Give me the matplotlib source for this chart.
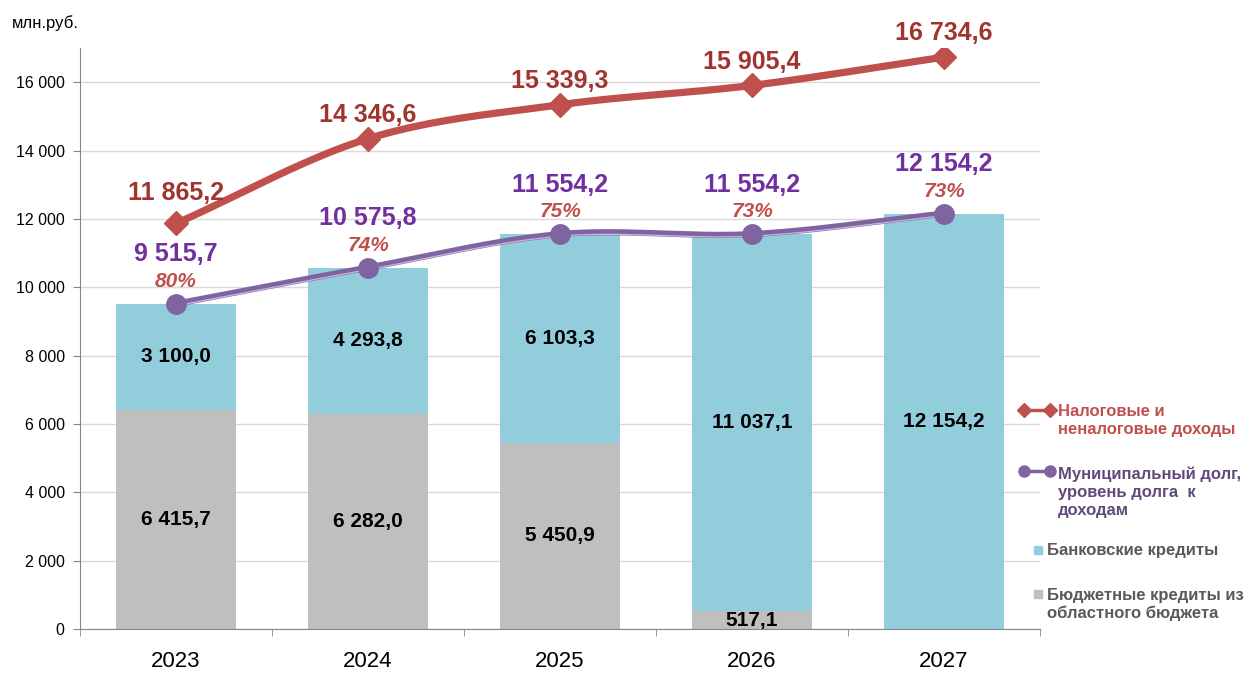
import numpy as np
import matplotlib
matplotlib.use("Agg")
import matplotlib.pyplot as plt
from matplotlib.lines import Line2D
from matplotlib.patches import Rectangle

plt.rcParams['font.family'] = ['Liberation Sans', 'DejaVu Sans']

""" data """
years = ["2023", "2024", "2025", "2026", "2027"]
budget_credits = [6415.7, 6282.0, 5450.9, 517.1, 0.0]      # grey
bank_credits = [3100.0, 4293.8, 6103.3, 11037.1, 12154.2]  # blue
revenues = [11865.2, 14346.6, 15339.3, 15905.4, 16734.6]   # red line
debt = [9515.7, 10575.8, 11554.2, 11554.2, 12154.2]        # purple line
debt_share = ["80%", "74%", "75%", "73%", "73%"]

""" style """
c_blue = "#92CDDC"
c_grey = "#BFBFBF"
c_red = "#C0504D"
c_red_txt = "#A0342F"
c_purple = "#8064A2"
c_purple_txt = "#7030A0"
c_axis = "#868686"

W, H = 1249, 675


def fx(px):
    return px / W


def fy(py):
    return 1 - py / H


def fmt(v):
    return f"{v:,.1f}".replace(",", " ").replace(".", ",")


def smooth(xs, ys, n=40):
    # catmull-rom, like excel "smoothed line"
    xs = np.asarray(xs, float)
    ys = np.asarray(ys, float)
    px = np.concatenate([[2 * xs[0] - xs[1]], xs, [2 * xs[-1] - xs[-2]]])
    py = np.concatenate([[2 * ys[0] - ys[1]], ys, [2 * ys[-1] - ys[-2]]])
    out_x, out_y = [], []
    t = np.linspace(0, 1, n)
    for i in range(1, len(px) - 2):
        for arr, out in ((px, out_x), (py, out_y)):
            p0, p1, p2, p3 = arr[i - 1], arr[i], arr[i + 1], arr[i + 2]
            m1 = (p2 - p0) / 2
            m2 = (p3 - p1) / 2
            h00 = 2 * t**3 - 3 * t**2 + 1
            h10 = t**3 - 2 * t**2 + t
            h01 = -2 * t**3 + 3 * t**2
            h11 = t**3 - t**2
            out.extend(h00 * p1 + h10 * m1 + h01 * p2 + h11 * m2)
    return np.array(out_x), np.array(out_y)


fig = plt.figure(figsize=(W / 100, H / 100), dpi=100)
ax = fig.add_axes([fx(80), fy(629), (1040 - 80) / W, (629 - 48) / H])

x = np.arange(len(years))
bw = 0.62
ax.bar(x, budget_credits, bw, color=c_grey, zorder=2)
ax.bar(x, bank_credits, bw, bottom=budget_credits, color=c_blue, zorder=2)

# bar labels
for i in range(len(years)):
    if budget_credits[i] > 0:
        ax.text(x[i], budget_credits[i] / 2, fmt(budget_credits[i]),
                ha="center", va="center", fontsize=15, fontweight="bold", color="black", zorder=5)
    ax.text(x[i], budget_credits[i] + bank_credits[i] / 2, fmt(bank_credits[i]),
            ha="center", va="center", fontsize=15, fontweight="bold", color="black", zorder=5)

# red line
sx, sy = smooth(x, revenues)
ax.plot(sx, sy, color=c_red, lw=5.2, solid_capstyle="round", zorder=4)
ax.plot(x, revenues, ls="none", marker="D", ms=12, color=c_red, zorder=4)

# purple line (double look)
sx, sy = smooth(x, debt)
ax.plot(sx, sy, color=c_purple, lw=4.5, zorder=4)
ax.plot(sx, sy - 60, color="#C9B8DC", lw=0.9, zorder=4)
ax.plot(x, debt, ls="none", marker="o", ms=14, color=c_purple, zorder=4)

red_off = [22, 17, 17, 17, 17]
for i in range(len(years)):
    ax.annotate(fmt(revenues[i]), (x[i], revenues[i]),
                xytext=(0, red_off[i]), textcoords="offset points", ha="center", va="center",
                fontsize=18, fontweight="bold", color=c_red_txt, zorder=6)
    ax.annotate(fmt(debt[i]), (x[i], debt[i]),
                xytext=(0, 35.5), textcoords="offset points", ha="center", va="center",
                fontsize=18, fontweight="bold", color=c_purple_txt, zorder=6)
    ax.annotate(debt_share[i], (x[i], debt[i]),
                xytext=(0, 16), textcoords="offset points", ha="center", va="center",
                fontsize=15, fontweight="bold", fontstyle="italic", color=c_red, zorder=6)

""" axes """
ax.set_xlim(-0.5, len(years) - 0.5)
ax.set_ylim(0, 17000)
ax.set_yticks(np.arange(0, 16001, 2000))
ax.set_yticklabels([f"{v:,}".replace(",", " ") for v in range(0, 16001, 2000)], fontsize=11.5)
ax.set_xticks(x)
ax.set_xticklabels(years, fontsize=16)
ax.set_xticks(np.arange(-0.5, len(years), 1), minor=True)
ax.tick_params(axis="x", which="major", length=0, pad=16)
ax.tick_params(axis="x", which="minor", length=5, color=c_axis, direction="out")
ax.tick_params(axis="y", length=5, color=c_axis, direction="out", pad=6)
ax.grid(axis="y", color="#D9D9D9", lw=1, zorder=0)
ax.set_axisbelow(True)
for s in ["top", "right"]:
    ax.spines[s].set_visible(False)
for s in ["left", "bottom"]:
    ax.spines[s].set_color(c_axis)

fig.text(fx(12), fy(23), "млн.руб.", fontsize=12, ha="left", va="center")

""" legend (manual) """
fig.add_artist(Line2D([fx(1024), fx(1050)], [fy(410), fy(410)], color=c_red, lw=2.5,
                      marker="D", ms=7, transform=fig.transFigure))
fig.text(fx(1058), fy(420.5), "Налоговые и\nненалоговые доходы", fontsize=12, fontweight="bold",
         color=c_red, ha="left", va="center", linespacing=1.25)
fig.add_artist(Line2D([fx(1024), fx(1050)], [fy(471), fy(471)], color=c_purple, lw=2.5,
                      marker="o", ms=8, transform=fig.transFigure))
fig.text(fx(1058), fy(492), "Муниципальный долг,\nуровень долга  к\nдоходам", fontsize=12,
         fontweight="bold", color="#604A7B", ha="left", va="center", linespacing=1.25)
fig.add_artist(Rectangle((fx(1034), fy(554)), fx(8), 8 / H, color=c_blue, transform=fig.transFigure))
fig.text(fx(1047), fy(550), "Банковские кредиты", fontsize=12, fontweight="bold",
         color="#595959", ha="left", va="center")
fig.add_artist(Rectangle((fx(1034), fy(598)), fx(8), 8 / H, color=c_grey, transform=fig.transFigure))
fig.text(fx(1047), fy(604.5), "Бюджетные кредиты из\nобластного бюджета", fontsize=12,
         fontweight="bold", color="#595959", ha="left", va="center", linespacing=1.25)

fig.savefig("out.png", dpi=100)
